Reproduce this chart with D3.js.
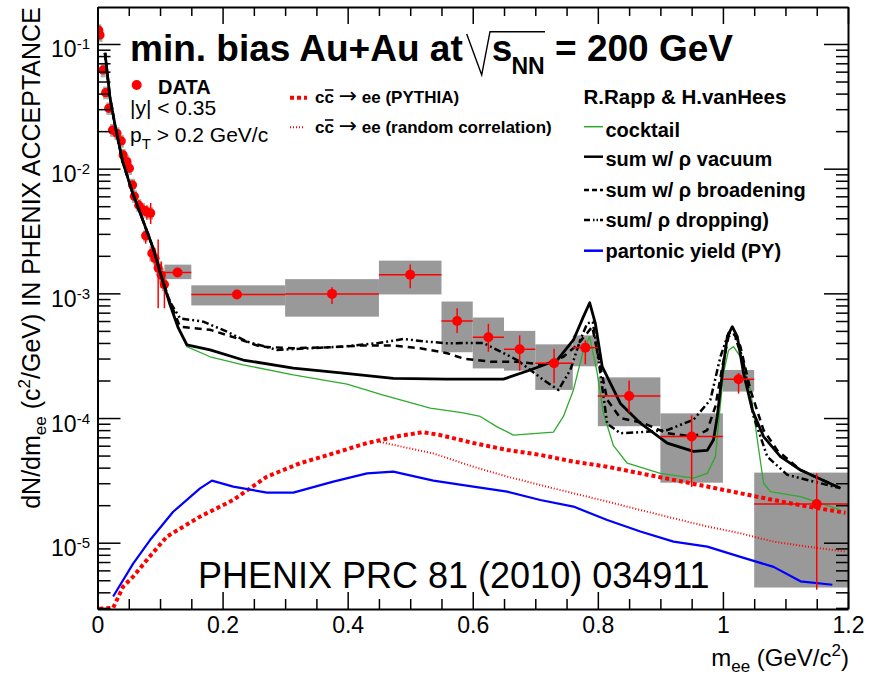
<!DOCTYPE html>
<html><head><meta charset="utf-8">
<script src="https://cdn.jsdelivr.net/npm/d3@7"></script>
<style>
body{margin:0;background:#fff;}
text{font-family:"Liberation Sans", Arial, Helvetica, sans-serif;}
</style></head><body>
<svg id="c" width="879" height="676"></svg>
<script>
// ---------------- DATA ----------------
// low-mass data points (m in GeV/c^2, dN/dm)
const lowM  = [0.002,0.004,0.009,0.013,0.018,0.024,0.031,0.038,0.041,0.047,0.051,0.056,0.059,0.066,0.072,0.079,0.085,0.077,0.087,0.092,0.097,0.102,0.107];
const lowV  = [0.129,0.118,0.0619,0.0407,0.0305,0.0204,0.0192,0.0167,0.0129,0.0114,0.0101,0.0074,0.0060,0.0051,0.0047,0.0045,0.0044,0.0029,0.0021,0.0019,0.0016,0.0014,0.00118];
const lowStatLo = [0.122,0.112,0.058,0.038,0.0285,0.019,0.018,0.0155,0.012,0.0106,0.0093,0.0068,0.0055,0.0046,0.0042,0.0039,0.0036,0.0025,0.0018,0.0016,0.00076,0.0011,0.00076];
const lowStatHi = [0.136,0.124,0.066,0.0435,0.0325,0.0218,0.0205,0.018,0.0139,0.0123,0.0109,0.0080,0.0065,0.0056,0.0052,0.0051,0.0053,0.0034,0.0025,0.0023,0.0027,0.0018,0.0015];
const lowSysLo  = [0.114,0.104,0.054,0.036,0.027,0.018,0.017,0.0147,0.0114,0.0100,0.0089,0.0065,0.0053,0.0045,0.0041,0.0040,0.0039,0.0026,0.0018,0.0017,0.0014,0.0012,0.00104];
const lowSysHi  = [0.144,0.132,0.069,0.0456,0.034,0.0228,0.0215,0.0187,0.0144,0.0128,0.0113,0.0083,0.0067,0.0057,0.0053,0.0050,0.0049,0.0032,0.0024,0.0021,0.0018,0.0016,0.00132];
const lowHalfW  = 0.004;

// binned data points
const binM  = [0.128,0.223,0.375,0.5,0.575,0.625,0.675,0.73,0.78,0.85,0.95,1.025,1.15];
const binV  = [1.47e-3,9.8e-4,9.9e-4,1.41e-3,6.0e-4,4.45e-4,3.56e-4,2.75e-4,3.67e-4,1.5e-4,7.1e-5,2.05e-4,2.04e-5];
const binXLo = [0.107,0.15,0.30,0.45,0.55,0.60,0.65,0.70,0.76,0.80,0.90,1.00,1.05];
const binXHi = [0.15,0.30,0.45,0.55,0.60,0.65,0.70,0.76,0.80,0.90,1.00,1.05,1.20];
const binStatLo = [1.38e-3,9.3e-4,8.2e-4,1.1e-3,4.8e-4,3.4e-4,2.4e-4,1.9e-4,2.7e-4,1.1e-4,2.8e-5,1.57e-4,4.2e-6];
const binStatHi = [1.56e-3,1.03e-3,1.12e-3,1.7e-3,7.6e-4,5.7e-4,4.6e-4,3.6e-4,4.2e-4,2.0e-4,1.05e-4,2.3e-4,3.6e-5];
const binSysLo  = [1.3e-3,8.0e-4,6.5e-4,9.8e-4,3.37e-4,2.5e-4,2.4e-4,1.68e-4,2.6e-4,8.6e-5,3.03e-5,1.63e-4,4.37e-6];
const binSysHi  = [1.7e-3,1.16e-3,1.3e-3,1.83e-3,8.6e-4,6.4e-4,5.0e-4,3.9e-4,4.6e-4,2.12e-4,1.09e-4,2.43e-4,3.65e-5];

// model curves
const cocktailM = [0.012,0.02,0.028,0.04,0.057,0.073,0.089,0.103,0.116,0.129,0.143,0.18,0.233,0.313,0.399,0.457,0.532,0.585,0.612,0.639,0.665,0.729,0.745,0.761,0.777,0.787,0.799,0.809,0.825,0.847,0.9,0.953,0.975,0.988,0.993,1.001,1.009,1.017,1.028,1.044,1.055,1.065,1.076,1.124,1.188];
const cocktailV = [0.085,0.037,0.0224,0.0115,0.0062,0.0038,0.0023,0.00132,0.00081,0.00052,0.000374,0.00031,0.000267,0.000222,0.000187,0.000153,0.00012,0.00011,0.000103,0.000085,0.000073,0.000077,0.000103,0.000168,0.00035,0.00045,0.000229,0.000109,0.00006,0.0000434,0.000036,0.0000329,0.000036,0.000049,0.000091,0.000229,0.00035,0.000374,0.00031,0.000168,0.000067,0.00003,0.0000257,0.0000234,0.0000183];

const vacuumM = [0.012,0.02,0.028,0.04,0.057,0.073,0.089,0.103,0.116,0.129,0.143,0.18,0.233,0.313,0.393,0.473,0.559,0.649,0.692,0.735,0.761,0.777,0.787,0.796,0.807,0.836,0.868,0.911,0.953,0.975,0.985,0.991,0.999,1.007,1.015,1.023,1.033,1.047,1.065,1.092,1.124,1.188];
const vacuumV = [0.085,0.037,0.0224,0.0115,0.0062,0.0038,0.0023,0.00132,0.00081,0.00053,0.000386,0.000352,0.000292,0.000251,0.000229,0.000208,0.000205,0.000205,0.000243,0.000292,0.000423,0.00065,0.00084,0.000575,0.000258,0.000131,0.000091,0.000063,0.000054,0.000055,0.000067,0.000103,0.000229,0.00045,0.00054,0.00045,0.000229,0.000116,0.000071,0.000049,0.0000383,0.0000273];

const broadM = [0.012,0.02,0.028,0.04,0.057,0.073,0.089,0.103,0.116,0.132,0.18,0.223,0.26,0.313,0.367,0.42,0.473,0.516,0.559,0.585,0.628,0.671,0.713,0.745,0.767,0.783,0.791,0.801,0.815,0.836,0.873,0.911,0.953,0.975,0.988,0.999,1.009,1.017,1.028,1.044,1.065,1.087,1.124,1.188];
const broadV = [0.085,0.037,0.0224,0.0115,0.0062,0.0038,0.0023,0.00132,0.00085,0.00054,0.00051,0.000436,0.000374,0.000363,0.000369,0.000381,0.000381,0.000363,0.000331,0.0003,0.000283,0.000283,0.000267,0.00031,0.000386,0.00048,0.00054,0.00031,0.00014,0.0001,0.000091,0.0000755,0.000071,0.00008,0.000124,0.000258,0.00045,0.00048,0.000374,0.000168,0.00008,0.000055,0.0000383,0.0000273];

const dropM = [0.012,0.02,0.028,0.04,0.057,0.073,0.089,0.103,0.116,0.132,0.169,0.207,0.239,0.287,0.34,0.393,0.447,0.489,0.527,0.559,0.617,0.671,0.713,0.737,0.756,0.772,0.783,0.792,0.804,0.815,0.836,0.868,0.911,0.953,0.98,0.996,1.009,1.017,1.031,1.049,1.071,1.103,1.188];
const dropV = [0.085,0.037,0.0224,0.0115,0.0062,0.0038,0.0023,0.00132,0.00085,0.00063,0.000593,0.000493,0.00041,0.000352,0.000363,0.000374,0.000398,0.00043,0.00041,0.000398,0.0004,0.000292,0.000202,0.000168,0.000243,0.000423,0.000575,0.00059,0.000229,0.00009,0.0000755,0.000077,0.00008,0.000097,0.00014,0.00031,0.00048,0.00048,0.00031,0.000103,0.000049,0.000035,0.0000273];

const partonM = [0.025,0.057,0.084,0.121,0.164,0.183,0.217,0.271,0.313,0.377,0.431,0.473,0.537,0.601,0.655,0.708,0.761,0.815,0.868,0.921,0.975,1.028,1.081,1.124,1.175];
const partonV = [3.7e-6,6.8e-6,1.05e-5,1.77e-5,2.73e-5,3.15e-5,2.82e-5,2.52e-5,2.52e-5,3.09e-5,3.6e-5,3.72e-5,3.15e-5,2.82e-5,2.57e-5,2.2e-5,1.95e-5,1.52e-5,1.23e-5,1.02e-5,9.3e-6,7.7e-6,6.4e-6,4.9e-6,4.6e-6];

const pythiaM = [0.003,0.025,0.041,0.057,0.084,0.111,0.164,0.217,0.271,0.324,0.377,0.431,0.484,0.52,0.548,0.601,0.655,0.708,0.761,0.815,0.868,0.921,0.975,1.028,1.081,1.135,1.196];
const pythiaV = [2.95e-6,3.0e-6,4.45e-6,5.35e-6,7.8e-6,1.12e-5,1.62e-5,2.2e-5,3.39e-5,4.34e-5,5.2e-5,6.3e-5,7.2e-5,7.7e-5,7.3e-5,6.3e-5,5.55e-5,5.06e-5,4.47e-5,4.07e-5,3.6e-5,3.19e-5,2.82e-5,2.49e-5,2.2e-5,1.95e-5,1.74e-5];

const randomM = [0.447,0.537,0.601,0.655,0.708,0.761,0.815,0.868,0.921,0.975,1.028,1.081,1.135,1.196];
const randomV = [6.5e-5,5.2e-5,4.07e-5,3.39e-5,2.9e-5,2.49e-5,2.14e-5,1.83e-5,1.57e-5,1.35e-5,1.19e-5,1.02e-5,9.3e-6,8.5e-6];

// axis ticks
const xMajorTicks = [0,0.2,0.4,0.6,0.8,1.0,1.2];
const xTickLabels = ["0","0.2","0.4","0.6","0.8","1","1.2"];
const xMinorTicks = [0.05,0.1,0.15,0.25,0.3,0.35,0.45,0.5,0.55,0.65,0.7,0.75,0.85,0.9,0.95,1.05,1.1,1.15];
const yMajorTicks = [1e-5,1e-4,1e-3,1e-2,1e-1];
const yTickExp = ["-5","-4","-3","-2","-1"];

// ---------------- CHART ----------------
const svg = d3.select("#c");
const L = 97.5, R = 848, T = 7, B = 609;
const x = d3.scaleLinear().domain([0,1.2]).range([L,R]);
const y = d3.scaleLog().domain([2.94e-6,0.198]).range([B,T]);
const zip = (a,b) => a.map((v,i)=>[v,b[i]]);

svg.append("defs").append("clipPath").attr("id","clip")
  .append("rect").attr("x",L).attr("y",T).attr("width",R-L).attr("height",B-T);

const plot = svg.append("g").attr("clip-path","url(#clip)");
const boxFill = "#999999";

// systematic boxes
plot.append("g").selectAll("rect.bs").data(binM.map((m,i)=>i)).enter().append("rect")
  .attr("x",i=>x(binXLo[i])).attr("width",i=>x(binXHi[i])-x(binXLo[i]))
  .attr("y",i=>y(binSysHi[i])).attr("height",i=>y(binSysLo[i])-y(binSysHi[i]))
  .attr("fill",boxFill);
plot.append("g").selectAll("rect.ls").data(lowM.map((m,i)=>i)).enter().append("rect")
  .attr("x",i=>x(lowM[i]-lowHalfW)).attr("width",i=>x(lowM[i]+lowHalfW)-x(lowM[i]-lowHalfW))
  .attr("y",i=>y(lowSysHi[i])).attr("height",i=>y(lowSysLo[i])-y(lowSysHi[i]))
  .attr("fill",boxFill).attr("opacity",0.8);

// low-mass data (under curves)
const red = "#ff0000";
const lowG = plot.append("g");
lowG.selectAll("line").data(lowM.map((m,i)=>i)).enter().append("line")
  .attr("x1",i=>x(lowM[i])).attr("x2",i=>x(lowM[i]))
  .attr("y1",i=>y(lowStatLo[i])).attr("y2",i=>y(lowStatHi[i]))
  .attr("stroke",red).attr("stroke-width",1.5);
lowG.selectAll("circle").data(lowM.map((m,i)=>i)).enter().append("circle")
  .attr("cx",i=>x(lowM[i])).attr("cy",i=>y(lowV[i])).attr("r",4.6).attr("fill",red);

// curves
const line = d3.line().x(d=>x(d[0])).y(d=>y(d[1]));
function curve(M,V,color,w,dash){
  const p = plot.append("path").datum(zip(M,V)).attr("d",line)
    .attr("fill","none").attr("stroke",color).attr("stroke-width",w)
    .attr("stroke-linejoin","round");
  if(dash) p.attr("stroke-dasharray",dash);
  return p;
}
const green = "#2eaa2e", blue = "#0000ff";
const dashBroad = "7,5", dashDrop = "7,3,2,3,2,3", dashPy = "4,3", dashRand = "1,2";
curve(randomM,randomV,red,2,dashRand);
curve(pythiaM,pythiaV,red,4,dashPy);
curve(partonM,partonV,blue,2.2,null);
curve(cocktailM,cocktailV,green,1.3,null);
curve(dropM,dropV,"#000",2.5,dashDrop);
curve(broadM,broadV,"#000",2.5,dashBroad);
curve(vacuumM,vacuumV,"#000",2.8,null);

// binned data on top
const binG = plot.append("g");
binM.forEach((m,i)=>{
  binG.append("line").attr("x1",x(binXLo[i])).attr("x2",x(binXHi[i]))
    .attr("y1",y(binV[i])).attr("y2",y(binV[i])).attr("stroke",red).attr("stroke-width",1.5);
  binG.append("line").attr("x1",x(m)).attr("x2",x(m))
    .attr("y1",y(binStatLo[i])).attr("y2",y(binStatHi[i])).attr("stroke",red).attr("stroke-width",1.5);
  binG.append("circle").attr("cx",x(m)).attr("cy",y(binV[i])).attr("r",5).attr("fill",red);
});

// ---------------- AXES ----------------
const axW = 2;
function styleAxis(g){
  g.select(".domain").attr("stroke","#000").attr("stroke-width",axW);
  g.selectAll(".tick line").attr("stroke","#000").attr("stroke-width",1.5);
}
// bottom
const gxb = svg.append("g").attr("transform",`translate(0,${B})`)
  .call(d3.axisBottom(x).tickValues(xMajorTicks).tickSizeInner(-17).tickSizeOuter(0).tickPadding(8)
        .tickFormat((d,i)=>xTickLabels[i]));
styleAxis(gxb);
gxb.selectAll(".tick text").attr("font-size",23).attr("fill","#000")
  .attr("font-family","Liberation Sans, Arial, sans-serif");
const gxbm = svg.append("g").attr("transform",`translate(0,${B})`)
  .call(d3.axisBottom(x).tickValues(xMinorTicks).tickSizeInner(-10).tickSizeOuter(0).tickFormat(""));
styleAxis(gxbm); gxbm.select(".domain").remove();
// top
const gxt = svg.append("g").attr("transform",`translate(0,${T})`)
  .call(d3.axisTop(x).tickValues(xMajorTicks).tickSizeInner(-17).tickSizeOuter(0).tickFormat(""));
styleAxis(gxt);
const gxtm = svg.append("g").attr("transform",`translate(0,${T})`)
  .call(d3.axisTop(x).tickValues(xMinorTicks).tickSizeInner(-9).tickSizeOuter(0).tickFormat(""));
styleAxis(gxtm); gxtm.select(".domain").remove();
// y minor
const yMinor = y.ticks().filter(v=>!yMajorTicks.some(t=>Math.abs(t-v)/t<1e-6));
// left
const gyl = svg.append("g").attr("transform",`translate(${L},0)`)
  .call(d3.axisLeft(y).tickValues(yMajorTicks).tickSizeInner(-23).tickSizeOuter(0).tickFormat(""));
styleAxis(gyl);
const gylm = svg.append("g").attr("transform",`translate(${L},0)`)
  .call(d3.axisLeft(y).tickValues(yMinor).tickSizeInner(-13).tickSizeOuter(0).tickFormat(""));
styleAxis(gylm); gylm.select(".domain").remove();
// right
const gyr = svg.append("g").attr("transform",`translate(${R},0)`)
  .call(d3.axisRight(y).tickValues(yMajorTicks).tickSizeInner(-24).tickSizeOuter(0).tickFormat(""));
styleAxis(gyr);
const gyrm = svg.append("g").attr("transform",`translate(${R},0)`)
  .call(d3.axisRight(y).tickValues(yMinor).tickSizeInner(-12).tickSizeOuter(0).tickFormat(""));
styleAxis(gyrm); gyrm.select(".domain").remove();

// y tick labels 10^n
yMajorTicks.forEach((v,i)=>{
  const t = svg.append("text").attr("x",90).attr("y",y(v)+13.5)
    .attr("text-anchor","end").attr("font-size",23);
  t.append("tspan").text("10");
  t.append("tspan").attr("font-size",15).attr("dy",-8).text(yTickExp[i]);
});

// axis titles
const xl = svg.append("text").attr("x",849).attr("y",666).attr("text-anchor","end").attr("font-size",24);
xl.append("tspan").text("m");
xl.append("tspan").attr("font-size",17).attr("dy",6).text("ee");
xl.append("tspan").attr("dy",-6).text(" (GeV/c");
xl.append("tspan").attr("font-size",17).attr("dy",-10).text("2");
xl.append("tspan").attr("dy",10).text(")");

const yl = svg.append("text").attr("transform","translate(40,258) rotate(-90)")
  .attr("text-anchor","middle").attr("font-size",25);
yl.append("tspan").text("dN/dm");
yl.append("tspan").attr("font-size",17).attr("dy",6).text("ee");
yl.append("tspan").attr("dy",-6).text(" (c");
yl.append("tspan").attr("font-size",17).attr("dy",-10).text("2");
yl.append("tspan").attr("dy",10).text("/GeV) IN PHENIX ACCEPTANCE");

// ---------------- TITLE ----------------
svg.append("text").attr("x",130).attr("y",61).attr("font-size",37).attr("font-weight","bold")
  .text("min. bias Au+Au at");
svg.append("path").attr("d","M466.7,34 L481.7,75 L490,31.7 L545,31.7")
  .attr("fill","none").attr("stroke","#000").attr("stroke-width",1.4);
svg.append("text").attr("x",491.7).attr("y",61).attr("font-size",37).attr("font-weight","bold").text("s");
svg.append("text").attr("x",511.5).attr("y",73.5).attr("font-size",23).attr("font-weight","bold").text("NN");
svg.append("text").attr("x",555).attr("y",61).attr("font-size",37).attr("font-weight","bold").text("= 200 GeV");

// ---------------- LEGENDS ----------------
svg.append("circle").attr("cx",136.7).attr("cy",85).attr("r",5).attr("fill",red);
svg.append("text").attr("x",158).attr("y",94).attr("font-size",20).attr("font-weight","bold").text("DATA");
svg.append("text").attr("x",130).attr("y",115).attr("font-size",21).text("|y| < 0.35");
const pt = svg.append("text").attr("x",130).attr("y",141.5).attr("font-size",21);
pt.append("tspan").text("p");
pt.append("tspan").attr("font-size",15).attr("dy",7).text("T");
pt.append("tspan").attr("dy",-7).text(" > 0.2 GeV/c");

// charm legend
function ccText(yb, rest){
  const t = svg.append("text").attr("x",315).attr("y",yb).attr("font-size",17).attr("font-weight","bold");
  t.append("tspan").text("cc ");
  t.append("tspan").attr("font-family","DejaVu Sans").attr("font-weight","normal").attr("font-size",22).text("\u2192");
  t.append("tspan").text(" ee " + rest);
  // overline on the second c
  const node = t.node();
  const s = node.getStartPositionOfChar(1).x, e = node.getEndPositionOfChar(1).x;
  svg.append("line").attr("x1",s+0.5).attr("x2",e-0.5).attr("y1",yb-13).attr("y2",yb-13)
    .attr("stroke","#000").attr("stroke-width",1.6);
}
svg.append("line").attr("x1",290).attr("x2",307).attr("y1",97.7).attr("y2",97.7)
  .attr("stroke",red).attr("stroke-width",4).attr("stroke-dasharray",dashPy);
ccText(103,"(PYTHIA)");
svg.append("line").attr("x1",290).attr("x2",304).attr("y1",127.3).attr("y2",127.3)
  .attr("stroke",red).attr("stroke-width",2).attr("stroke-dasharray",dashRand);
ccText(133,"(random correlation)");

// Rapp legend
svg.append("text").attr("x",583.5).attr("y",104).attr("font-size",20.5).attr("font-weight","bold")
  .text("R.Rapp & H.vanHees");
const legItems = [
  {t:"cocktail", c:green, w:1.5, d:null, yb:137.3, ys:126.7},
  {t:"sum w/ \u03c1 vacuum", c:"#000", w:2.5, d:null, yb:165.7, ys:156.7},
  {t:"sum w/ \u03c1 broadening", c:"#000", w:2.5, d:"5,3", yb:196.7, ys:190},
  {t:"sum/ \u03c1 dropping)", c:"#000", w:2.5, d:"6,3,1.5,2,1.5,2", yb:226.7, ys:220},
  {t:"partonic yield (PY)", c:blue, w:2.5, d:null, yb:258.3, ys:250.7}
];
legItems.forEach(it=>{
  const l = svg.append("line").attr("x1",584).attr("x2",603).attr("y1",it.ys).attr("y2",it.ys)
    .attr("stroke",it.c).attr("stroke-width",it.w);
  if(it.d) l.attr("stroke-dasharray",it.d);
  svg.append("text").attr("x",605.5).attr("y",it.yb).attr("font-size",20).attr("font-weight","bold").text(it.t);
});

// reference
svg.append("text").attr("x",198).attr("y",588).attr("font-size",36).text("PHENIX PRC 81 (2010) 034911");
</script>
</body></html>
